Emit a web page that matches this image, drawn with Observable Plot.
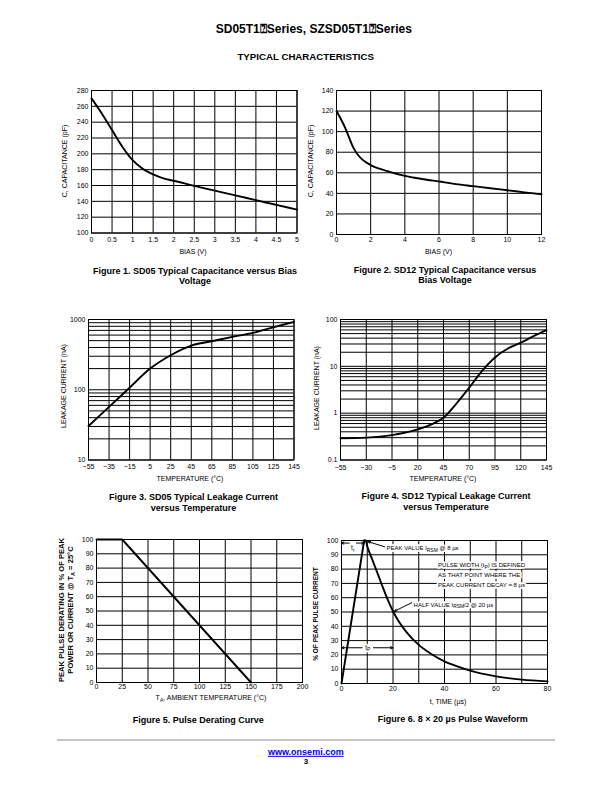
<!DOCTYPE html>
<html>
<head>
<meta charset="utf-8">
<script src="https://cdn.jsdelivr.net/npm/d3@7"></script>
<script src="https://cdn.jsdelivr.net/npm/@observablehq/plot@0.6"></script>
<style>
  html, body { margin: 0; padding: 0; background: #fff; }
  #page { position: relative; width: 612px; height: 792px; overflow: hidden; background: #fff;
          font-family: "Liberation Sans", Arial, Helvetica, sans-serif; color: #000; }
  .lbl { position: absolute; white-space: nowrap; text-align: center; line-height: 1.15; }
  .sub { font-size: 0.72em; vertical-align: -0.3em; }
</style>
</head>
<body>
<div id="page"></div>
<script>
// ---------------- DATA ----------------
// Figure 1: SD05 capacitance vs bias
const fig1Bias = [0, 0.25, 0.5, 0.75, 1, 1.25, 1.5, 1.75, 2, 2.5, 3, 3.5, 4, 4.5, 5];
const fig1Cap  = [270, 251, 230, 209, 192, 181, 174, 169, 166, 159.5, 153.5, 147.5, 141.5, 135.5, 129.5];
const fig1XTicks = [0, 0.5, 1, 1.5, 2, 2.5, 3, 3.5, 4, 4.5, 5];
const fig1YTicks = [100, 120, 140, 160, 180, 200, 220, 240, 260, 280];

// Figure 2: SD12 capacitance vs bias
const fig2Bias = [0, 0.5, 1, 1.25, 1.5, 2, 2.5, 3, 4, 5, 6, 7, 8, 9, 10, 11, 12];
const fig2Cap  = [120, 104, 84, 77.5, 73, 67.5, 64, 61.5, 57, 54, 51.5, 49, 47, 45, 43, 41, 39];
const fig2XTicks = [0, 2, 4, 6, 8, 10, 12];
const fig2YTicks = [0, 20, 40, 60, 80, 100, 120, 140];

// Figure 3: SD05 leakage vs temperature
const fig3Temp = [-55, -35, -15, 5, 25, 45, 65, 85, 105, 125, 145];
const fig3Leak = [30.5, 57, 107, 200, 310, 425, 490, 565, 645, 775, 925];
const fig3XTicks = [-55, -35, -15, 5, 25, 45, 65, 85, 105, 125, 145];
const fig3YTicks = [10, 100, 1000];
const fig3YGrid = [10, 20, 30, 40, 50, 60, 70, 80, 90, 100, 200, 300, 400, 500, 600, 700, 800, 900, 1000];

// Figure 4: SD12 leakage vs temperature
const fig4Temp = [-55, -30, -5, 20, 35, 45, 57.5, 70, 82.5, 95, 107.5, 120, 132.5, 145];
const fig4Leak = [0.29, 0.30, 0.34, 0.45, 0.6, 0.8, 1.6, 3.5, 8, 15.5, 24, 32, 44, 59];
const fig4XTicks = [-55, -30, -5, 20, 45, 70, 95, 120, 145];
const fig4YTicks = [0.1, 1, 10, 100];
const fig4YGrid = [0.1, 0.2, 0.3, 0.4, 0.5, 0.6, 0.7, 0.8, 0.9, 1, 2, 3, 4, 5, 6, 7, 8, 9, 10,
                   20, 30, 40, 50, 60, 70, 80, 90, 100];

// Figure 5: pulse derating
const fig5Temp = [0, 25, 150];
const fig5Pct  = [100, 100, 0];
const fig5XTicks = [0, 25, 50, 75, 100, 125, 150, 175, 200];
const fig5YTicks = [0, 10, 20, 30, 40, 50, 60, 70, 80, 90, 100];

// Figure 6: 8 x 20 us pulse waveform
const fig6RiseT  = [0, 8.8];
const fig6RiseI  = [0, 100];
const fig6DecayT = [8.8, 9.4, 10, 12, 14, 16, 18, 20, 22, 25, 30, 35, 40, 45, 50, 60, 70, 80];
const fig6DecayI = [100, 100, 96, 86.5, 77, 67.5, 58.5, 50.5, 44, 36.5, 27, 20.5, 15.5, 12, 9, 5, 2.7, 1.5];
const fig6XTicks = [0, 20, 40, 60, 80];
const fig6XGrid  = [0, 10, 20, 30, 40, 50, 60, 70, 80];
const fig6YTicks = [0, 10, 20, 30, 40, 50, 60, 70, 80, 90, 100];
const fig6NoteT    = [17.5, 37.5, 37.5, 37.5, 28];
const fig6NoteI    = [94.6, 82.5, 76, 69, 55];
const fig6NoteText = ["PEAK VALUE I_{RSM} @ 8 \u00b5s", "PULSE WIDTH (t_{P}) IS DEFINED",
                      "AS THAT POINT WHERE THE", "PEAK CURRENT DECAY = 8 \u00b5s",
                      "HALF VALUE I_{RSM}/2 @ 20 \u00b5s"];
const fig6SpanT    = [4.4, 10.2];
const fig6SpanI    = [94.5, 25];
const fig6SpanText = ["t_{r}", "t_{P}"];
// arrows: start -> end (head at end)
const fig6ArrowT1 = [16.8, 27.3, 3.0, 5.8, 8.0, 12.4];
const fig6ArrowI1 = [95.6, 56.5, 98.2, 98.2, 25, 25];
const fig6ArrowT2 = [10.3, 20.6, 0, 8.8, 0, 20];
const fig6ArrowI2 = [99.2, 50.6, 98.2, 98.2, 25, 25];

// ---------------- HELPERS ----------------
const page = document.getElementById("page");
const FONT = '"Liberation Sans", Arial, Helvetica, sans-serif';
const zip = (xs, ys) => xs.map((x, i) => ({x, y: ys[i]}));
const fmtNum = d => (d < 0 ? "\u2212" + Math.abs(d) : String(d));

function label(html, x, y, o = {}) {
  const d = document.createElement("div");
  d.className = "lbl";
  d.innerHTML = html;
  d.style.left = x + "px";
  d.style.top = y + "px";
  d.style.fontSize = (o.size || 7) + "px";
  if (o.bold) d.style.fontWeight = "bold";
  if (o.lh) d.style.lineHeight = o.lh + "px";
  if (o.color) d.style.color = o.color;
  if (o.underline) d.style.textDecoration = "underline";
  d.style.transform = "translate(-50%,-50%)" + (o.rotate ? " rotate(-90deg)" : "");
  page.appendChild(d);
  return d;
}

// turn "_{..}" markers in SVG text into real subscript tspans
function subscripts(svg, fs) {
  const NS = "http://www.w3.org/2000/svg";
  svg.querySelectorAll("text").forEach(t => {
    if (t.children.length === 0 && t.textContent.includes("_{")) {
      const parts = t.textContent.split(/(_\{[^}]*\})/);
      t.textContent = "";
      let shifted = false;
      parts.forEach(p => {
        if (!p) return;
        const ts = document.createElementNS(NS, "tspan");
        if (p.startsWith("_{")) {
          ts.textContent = p.slice(2, -1);
          ts.setAttribute("dy", (fs * 0.25).toFixed(2));
          ts.setAttribute("font-size", (fs * 0.82).toFixed(2));
          shifted = true;
        } else {
          ts.textContent = p;
          if (shifted) { ts.setAttribute("dy", (-fs * 0.25).toFixed(2)); shifted = false; }
        }
        t.appendChild(ts);
      });
    }
  });
}

function chart(c) {
  const [x0, y0, x1, y1] = c.frame;
  const mL = 40, mT = 8, mR = 10, mB = 16;
  const svg = Plot.plot({
    width: (x1 - x0) + mL + mR,
    height: (y1 - y0) + mT + mB,
    marginLeft: mL, marginTop: mT, marginRight: mR, marginBottom: mB,
    style: {fontFamily: FONT, fontSize: "7px", background: "transparent", overflow: "visible", color: "#000"},
    x: {domain: c.xDomain, ticks: c.xTicks, tickFormat: fmtNum, tickSize: 0, tickPadding: c.xPad, label: null},
    y: {type: c.yType || "linear", domain: c.yDomain, ticks: c.yTicks, tickFormat: fmtNum,
        tickSize: 0, tickPadding: 3, label: null},
    marks: [
      Plot.ruleX(c.xGrid || c.xTicks, {stroke: "#000", strokeWidth: 1}),
      Plot.ruleY(c.yGrid || c.yTicks, {stroke: "#000", strokeWidth: 1}),
      Plot.frame({stroke: "#000", strokeWidth: 1}),
      ...c.marks
    ]
  });
  svg.style.position = "absolute";
  svg.style.left = (x0 - mL) + "px";
  svg.style.top = (y0 - mT) + "px";
  svg.style.maxWidth = "none";
  page.appendChild(svg);
  return svg;
}

const curve = (d, cv) => Plot.line(d, {x: "x", y: "y", stroke: "#000", strokeWidth: 1.9, curve: cv || "monotone-x"});

// ---------------- HEADER ----------------
label("SD05T1\u2370Series, SZSD05T1\u2370Series", 313.8, 30, {size: 12, bold: true});
label("TYPICAL CHARACTERISTICS", 305.7, 57.3, {size: 9.7, bold: true});

// ---------------- FIGURE 1 ----------------
chart({
  frame: [90.5, 90, 296, 232.5],
  xDomain: [0, 5], xTicks: fig1XTicks, xPad: 4.5,
  yDomain: [100, 280], yTicks: fig1YTicks,
  marks: [curve(zip(fig1Bias, fig1Cap))]
});
label("C, CAPACITANCE (pF)", 65, 161, {rotate: true});
label("BIAS (V)", 193, 252);
label("Figure 1. SD05 Typical Capacitance versus Bias<br>Voltage", 195, 275.7, {size: 9, bold: true, lh: 10.5});

// ---------------- FIGURE 2 ----------------
chart({
  frame: [336, 89.5, 541, 233.5],
  xDomain: [0, 12], xTicks: fig2XTicks, xPad: 2.5,
  yDomain: [0, 140], yTicks: fig2YTicks,
  marks: [curve(zip(fig2Bias, fig2Cap))]
});
label("C, CAPACITANCE (pF)", 311, 161, {rotate: true});
label("BIAS (V)", 438.5, 251.7);
label("Figure 2. SD12 Typical Capacitance versus<br>Bias Voltage", 445, 274.7, {size: 9, bold: true, lh: 10.5});

// ---------------- FIGURE 3 ----------------
chart({
  frame: [87.5, 318.5, 293, 459],
  xDomain: [-55, 145], xTicks: fig3XTicks, xPad: 4.5,
  yType: "log", yDomain: [10, 1000], yTicks: fig3YTicks, yGrid: fig3YGrid,
  marks: [curve(zip(fig3Temp, fig3Leak))]
});
label("LEAKAGE CURRENT (nA)", 63.5, 386, {rotate: true});
label("TEMPERATURE (\u00b0C)", 190, 479);
label("Figure 3. SD05 Typical Leakage Current<br>versus Temperature", 193.5, 502.5, {size: 9, bold: true, lh: 11});

// ---------------- FIGURE 4 ----------------
chart({
  frame: [340, 318.5, 546, 459],
  xDomain: [-55, 145], xTicks: fig4XTicks, xPad: 5,
  yType: "log", yDomain: [0.1, 100], yTicks: fig4YTicks, yGrid: fig4YGrid,
  marks: [curve(zip(fig4Temp, fig4Leak))]
});
label("LEAKAGE CURRENT (nA)", 317, 388, {rotate: true});
label("TEMPERATURE (\u00b0C)", 443, 479);
label("Figure 4. SD12 Typical Leakage Current<br>versus Temperature", 446, 502.3, {size: 9, bold: true, lh: 11});

// ---------------- FIGURE 5 ----------------
chart({
  frame: [96, 539, 302, 682],
  xDomain: [0, 200], xTicks: fig5XTicks, xPad: 1.5,
  yDomain: [0, 100], yTicks: fig5YTicks,
  marks: [curve(zip(fig5Temp, fig5Pct), "linear")]
});
label("PEAK PULSE DERATING IN % OF PEAK<br>POWER OR CURRENT @ T<span class='sub'>A</span> = 25\u00b0C", 67.5, 610,
      {rotate: true, bold: true, size: 7.6, lh: 8.7});
label("T<span class='sub'>A</span>, AMBIENT TEMPERATURE (\u00b0C)", 211, 699);
label("Figure 5. Pulse Derating Curve", 198.3, 720, {size: 9, bold: true});

// ---------------- FIGURE 6 ----------------
const notes = fig6NoteT.map((t, i) => ({x: t, y: fig6NoteI[i], text: fig6NoteText[i]}));
const spans = fig6SpanT.map((t, i) => ({x: t, y: fig6SpanI[i], text: fig6SpanText[i]}));
const arrows = fig6ArrowT1.map((t, i) => ({x1: t, y1: fig6ArrowI1[i], x2: fig6ArrowT2[i], y2: fig6ArrowI2[i]}));
const svg6 = chart({
  frame: [341, 539.5, 547, 682.5],
  xDomain: [0, 80], xTicks: fig6XTicks, xGrid: fig6XGrid, xPad: 2.5,
  yDomain: [0, 100], yTicks: fig6YTicks,
  marks: [
    curve(zip(fig6RiseT, fig6RiseI), "linear"),
    curve(zip(fig6DecayT, fig6DecayI)),
    Plot.arrow(arrows, {x1: "x1", y1: "y1", x2: "x2", y2: "y2", stroke: "#000", strokeWidth: 1,
                        headLength: 4, headAngle: 50}),
    // white knock-out behind the annotation text, then the text itself
    Plot.text(notes, {x: "x", y: "y", text: "text", textAnchor: "start", fontSize: 6,
                      fill: "#fff", stroke: "#fff", strokeWidth: 3.5}),
    Plot.text(spans, {x: "x", y: "y", text: "text", fontSize: 6.5,
                      fill: "#fff", stroke: "#fff", strokeWidth: 3}),
    Plot.text(notes, {x: "x", y: "y", text: "text", textAnchor: "start", fontSize: 6, fill: "#000"}),
    Plot.text(spans, {x: "x", y: "y", text: "text", fontSize: 6.5, fill: "#000"})
  ]
});
subscripts(svg6, 6);
label("% OF PEAK PULSE CURRENT", 316, 614, {rotate: true, bold: true, size: 6.5});
label("t, TIME (\u00b5s)", 448, 702);
label("Figure 6. 8 \u00d7 20 \u00b5s Pulse Waveform", 452.8, 719.3, {size: 9, bold: true});

// ---------------- FOOTER ----------------
const rule = document.createElement("div");
Object.assign(rule.style, {position: "absolute", left: "57px", top: "739px", width: "498px", height: "2px", background: "#c4c4c4"});
page.appendChild(rule);
label("www.onsemi.com", 305.8, 751.7, {size: 9, bold: true, color: "#0000ee", underline: true});
label("3", 306, 762.3, {size: 8, bold: true});
</script>
</body>
</html>
